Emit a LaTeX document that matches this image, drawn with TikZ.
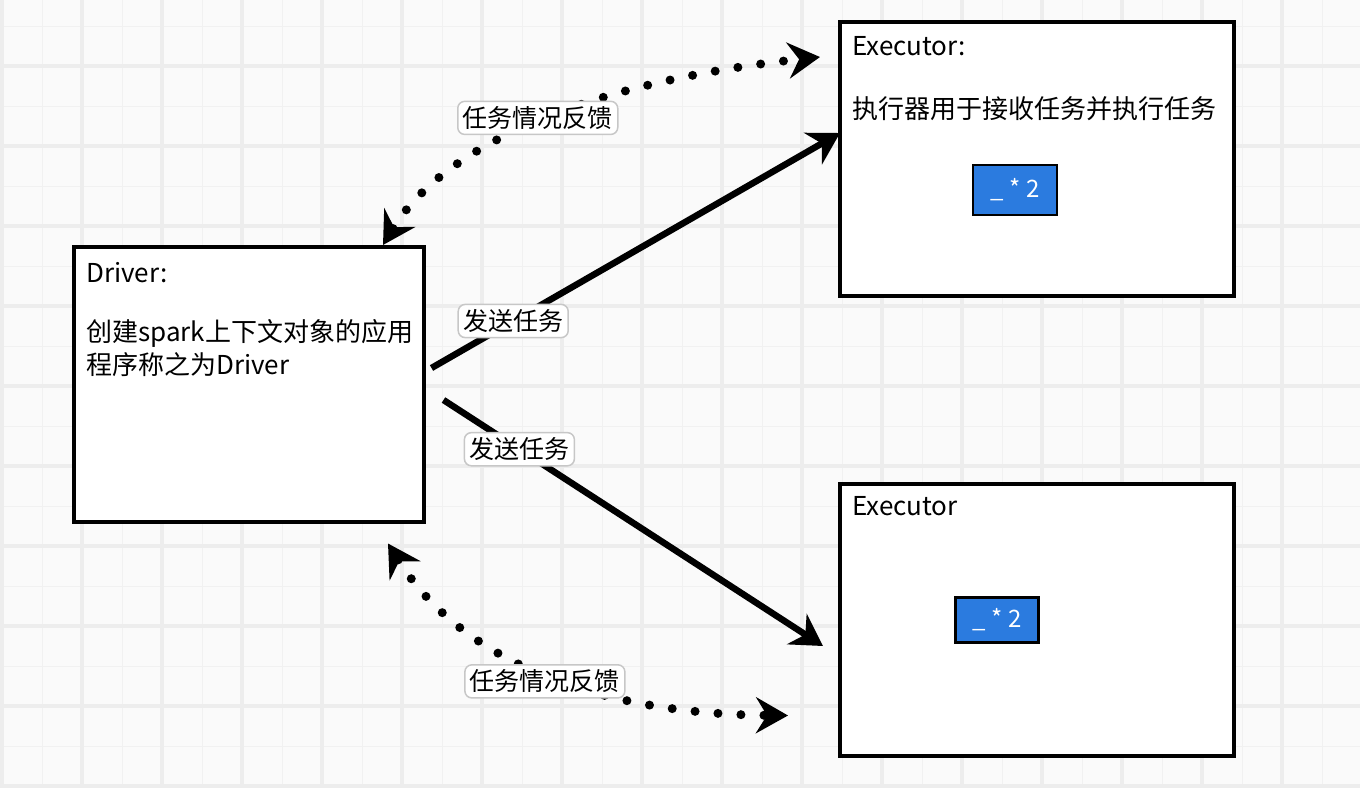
\documentclass[tikz,border=0pt]{standalone}
\usepackage{fontspec}
\setmainfont{Noto Sans CJK SC}
\usetikzlibrary{arrows.meta, calc, positioning}

\definecolor{paper}{HTML}{FAFAFA}
\definecolor{gridmajor}{HTML}{EDEDED}
\definecolor{gridminor}{HTML}{F1F1F1}
\definecolor{taskblue}{HTML}{2B7BDF}

\begin{document}
\begin{tikzpicture}[
		x=1pt, y=-1pt, % pixel grid, y downwards
		font=\fontsize{26}{33}\selectfont,
		box/.style={draw=black, line width=3.5pt, fill=white, anchor=north west, inner sep=0pt},
		boxtext/.style={anchor=north west, align=left, inner sep=0pt},
		tag/.style={draw=black!22, solid, line width=1.5pt, fill=white, rounded corners=7pt,
			inner xsep=5pt, inner ysep=5pt, font=\fontsize{25}{28}\selectfont},
		chip/.style={draw=black, line width=2.5pt, fill=taskblue, text=white,
			font=\fontsize{24}{26}\selectfont},
		send/.style={-{Stealth[length=31pt, width=36pt, inset=10pt]}, line width=6.5pt},
		feedback/.style={{Stealth[length=32pt, width=36pt, inset=11pt]}-{Stealth[length=32pt, width=36pt, inset=11pt]},
			line width=9pt, line cap=round, dash pattern=on 0pt off 23pt}
		]
		
		% --- 1. Background Grid ---
		\useasboundingbox (0,0) rectangle (1360,788);
		\fill[paper] (0,0) rectangle (1360,788);
		\foreach \gx in {42,122,...,1362} \draw[gridminor, line width=1pt] (\gx,0) -- (\gx,788);
		\foreach \gy in {26,106,...,788} \draw[gridminor, line width=1pt] (0,\gy) -- (1360,\gy);
		\foreach \gx in {2,82,...,1362} \draw[gridmajor, line width=3.5pt] (\gx,0) -- (\gx,788);
		\foreach \gy in {66,146,...,788} \draw[gridmajor, line width=3.5pt] (0,\gy) -- (1360,\gy);
		
		% --- 2. Boxes ---
		\node[box, minimum width=350pt, minimum height=275pt] (driver) at (72,245) {};
		\node[box, minimum width=394pt, minimum height=274pt] (exec1) at (838,20) {};
		\node[box, minimum width=394pt, minimum height=272pt] (exec2) at (838,482) {};
		
		% --- 3. Box Texts ---
		\node[boxtext] (drivertext) at ($(driver.north west)+(14,17)$)
			{Driver:\\[26pt]创建spark上下文对象的应用\\程序称之为Driver};
		\node[boxtext] (exec1text) at ($(exec1.north west)+(14,16)$)
			{Executor:\\[30pt]执行器用于接收任务并执行任务};
		\node[boxtext] (exec2text) at ($(exec2.north west)+(14,14)$) {Executor};
		
		% Task chips
		\node[chip, minimum width=84pt, minimum height=50pt] (task1) at (1015,190) {\_\ *\ 2};
		\node[chip, minimum width=83pt, minimum height=45pt] (task2) at (997,620) {\_\ *\ 2};
		
		% --- 4. Connector End Points ---
		\coordinate (send1s) at ($(driver.north east)+(6,123)$);
		\coordinate (send1e) at ($(exec1.north west)+(2,113)$);
		\coordinate (send2s) at ($(driver.north east)+(18,155)$);
		\coordinate (send2e) at ($(exec2.north west)+(-15,164)$);
		\coordinate (back1s) at ($(driver.north west)+(311,0)$);
		\coordinate (back1e) at ($(exec1.north west)+(-18,37)$);
		\coordinate (back2s) at ($(driver.south west)+(316,20)$);
		\coordinate (back2e) at ($(exec2.south west)+(-50,-42)$);
		
		% --- 5. Sending Tasks ---
		\draw[send] (send1s) -- (send1e) node[tag, pos=0.2] (sendtag1) {发送任务};
		\draw[send] (send2s) -- (send2e) node[tag, pos=0.2] (sendtag2) {发送任务};
		
		% --- 6. Feedback ---
		\draw[feedback] (back1s) .. controls (444,145) and (589,82) .. (back1e)
			node[tag, pos=0.5, yshift=5pt] (backtag1) {任务情况反馈};
		\draw[feedback] (back2s) .. controls (462,662) and (599,714) .. (back2e)
			node[tag, pos=0.5, yshift=-8pt] (backtag2) {任务情况反馈};
		
	\end{tikzpicture}
\end{document}
